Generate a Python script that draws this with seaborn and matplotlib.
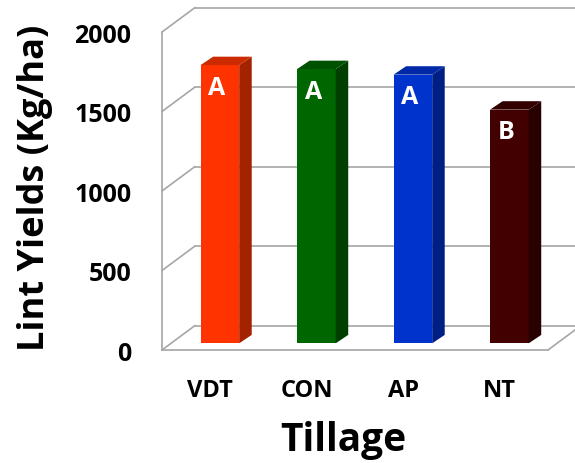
import numpy as np
import pandas as pd
import seaborn as sns
import matplotlib.pyplot as plt
from matplotlib.patches import Polygon

tillage = ['VDT', 'CON', 'AP', 'NT']
lint_yield = [1750, 1725, 1690, 1470]
letters = ['A', 'A', 'A', 'B']
front_colors = ['#FF3300', '#006600', '#0033CC', '#420000']
top_colors = ['#CC2A00', '#005200', '#0029A8', '#330000']
side_colors = ['#A32200', '#003F00', '#001F85', '#280000']
yticks = [0, 500, 1000, 1500, 2000]

sns.set_style('white')
plt.rcParams['font.family'] = ['Open Sans', 'DejaVu Sans']
plt.rcParams['font.weight'] = 'bold'
plt.rcParams['text.color'] = 'black'
plt.rcParams['axes.labelcolor'] = 'black'
plt.rcParams['xtick.labelcolor'] = 'black'
plt.rcParams['ytick.labelcolor'] = 'black'

df = pd.DataFrame({'Tillage': tillage, 'Yield': lint_yield})

fig = plt.figure(figsize=(5.75, 4.64), dpi=100)
ax = fig.add_axes([0.2817, 0.2435, 0.6713, 0.6853])

grid_col = '#A6A6A6'
depth_x, depth_y = 0.342, 154    # depth of the 3-D box (data units)
bar_off_x, bar_off_y = 0.10, 42  # where bar fronts sit inside the box
side_x, side_y = 0.13, 53        # bar thickness

### walls and floor ###
for v in yticks:
    ax.plot([-0.5, -0.5 + depth_x], [v, v + depth_y], color=grid_col,
            lw=1.2, clip_on=False, zorder=1)
    ax.plot([-0.5 + depth_x, 3.5 + depth_x], [v + depth_y, v + depth_y],
            color=grid_col, lw=1.2, clip_on=False, zorder=1)
ax.plot([3.5, 3.5 + depth_x], [0, depth_y], color=grid_col, lw=1.2,
        clip_on=False, zorder=1)

### bars ###
sns.barplot(data=df, x='Tillage', y='Yield', hue='Tillage',
            palette=front_colors, width=0.4, saturation=1, legend=False,
            ax=ax, zorder=3)

for p, tc, sc, lab in zip(ax.patches, top_colors, side_colors, letters):
    p.set_x(p.get_x() + bar_off_x)
    p.set_y(bar_off_y)
    p.set_linewidth(0)
    p.set_clip_on(False)
    x0 = p.get_x()
    x1 = x0 + p.get_width()
    y0 = p.get_y()
    y1 = y0 + p.get_height()
    ax.add_patch(Polygon([(x1, y0), (x1 + side_x, y0 + side_y),
                          (x1 + side_x, y1 + side_y), (x1, y1)],
                         closed=True, fc=sc, ec='none', zorder=3, clip_on=False))
    ax.add_patch(Polygon([(x0, y1), (x0 + side_x, y1 + side_y),
                          (x1 + side_x, y1 + side_y), (x1, y1)],
                         closed=True, fc=tc, ec='none', zorder=3, clip_on=False))
    ax.annotate(lab, xy=((x0 + x1) / 2, y1), xytext=(-2, -16),
                textcoords='offset points', ha='center', va='center',
                color='white', fontsize=18, fontweight='bold', zorder=4)

### axes ###
ax.set_xlim(-0.5, 3.5)
ax.set_ylim(0, 2000)
ax.set_yticks(yticks)
ax.set_yticklabels([str(v) for v in yticks], fontweight='bold')
ax.set_xticks(range(len(tillage)))
ax.set_xticklabels(tillage, fontweight='bold')
ax.set_xticks([-0.5, 0.5, 1.5, 2.5, 3.5], minor=True)
ax.tick_params(axis='x', which='major', length=0, pad=20, labelsize=17)
ax.tick_params(axis='x', which='minor', length=7, width=1.2,
               color=grid_col, direction='out')
ax.tick_params(axis='y', length=7, width=1.2, color=grid_col,
               direction='out', pad=15, labelsize=18)
ax.grid(False)
sns.despine(ax=ax)
for s in ['left', 'bottom']:
    ax.spines[s].set_color(grid_col)
    ax.spines[s].set_linewidth(1.2)

ax.set_xlabel('Tillage', fontsize=28, fontweight='bold', va='center')
ax.xaxis.set_label_coords(0.469, -0.28)
ax.set_ylabel('Lint Yields (Kg/ha)', fontsize=26, fontweight='bold', va='center')
ax.yaxis.set_label_coords(-0.33, 0.513)

plt.savefig('out.png', dpi=100)
